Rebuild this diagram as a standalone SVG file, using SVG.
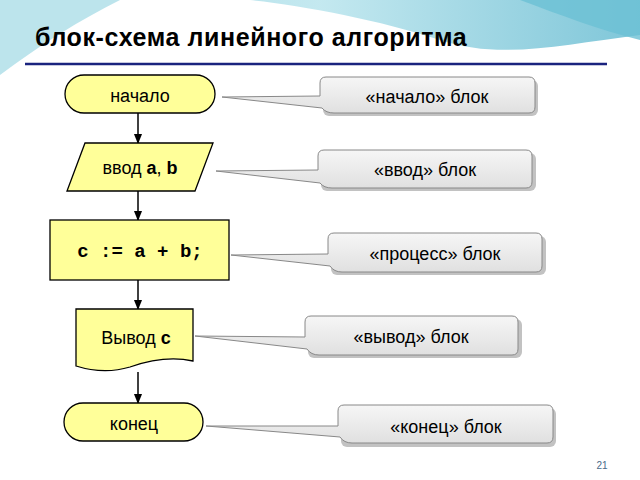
<svg xmlns="http://www.w3.org/2000/svg" width="640" height="480" viewBox="0 0 640 480">
<defs>
<linearGradient id="sky" x1="0" y1="0" x2="1" y2="0"><stop offset="0" stop-color="#8fd0de"/><stop offset="0.5" stop-color="#b5e3ec"/><stop offset="1" stop-color="#5fb8cf"/></linearGradient>
<linearGradient id="cg" x1="0" y1="0" x2="0" y2="1"><stop offset="0" stop-color="#f6f6f6"/><stop offset="1" stop-color="#e0e0e0"/></linearGradient>
<marker id="ar" viewBox="0 0 10 10" refX="9" refY="5" markerWidth="7" markerHeight="7" orient="auto"><path d="M0,1 L10,5 L0,9 z" fill="#000"/></marker>
</defs>
<style>
.n{fill:#ffff99;stroke:#000;stroke-width:1.3}
.t{font-family:"Liberation Sans",Arial,sans-serif;font-size:18px;text-anchor:middle;fill:#000}
.c{fill:url(#cg);stroke:#888;stroke-width:1}
.sh{fill:#9a9a9a;opacity:0.6}
.e{stroke:#000;stroke-width:1.5;marker-end:url(#ar)}
</style>
<rect width="640" height="480" fill="#fff"/>
<path d="M0,0 H640 V35 C560,45 500,60 440,40 C380,20 300,5 250,0 Z" fill="url(#sky)" opacity="0.8"/>
<path d="M0,0 H120 C80,20 40,45 0,75 Z" fill="#9fd8e4" opacity="0.7"/>
<path d="M520,0 H640 V40 C600,30 560,15 520,0 Z" fill="#6cc0d5" opacity="0.8"/>
<text x="35" y="46" font-family="Liberation Sans,Arial,sans-serif" font-size="25" font-weight="bold" letter-spacing="0.6" fill="#000">блок-схема линейного алгоритма</text>
<line x1="25" y1="64" x2="607" y2="64" stroke="#1a237e" stroke-width="2.5"/>

<g id="connectors">
<line class="e" x1="138" y1="113" x2="138" y2="143"/>
<line class="e" x1="138" y1="191" x2="138" y2="220"/>
<line class="e" x1="138" y1="280" x2="138" y2="309"/>
<line class="e" x1="138" y1="372" x2="138" y2="403"/>
</g>

<g id="start"><rect class="n" x="65" y="75" width="150" height="38" rx="19"/><text class="t" x="140" y="102">начало</text></g>
<g id="input"><path class="n" d="M85,143 H213 L195,191 H67 Z"/><text class="t" x="140" y="174">ввод <tspan font-weight="bold">a</tspan>, <tspan font-weight="bold">b</tspan></text></g>
<g id="process"><rect class="n" x="50" y="220" width="179" height="60"/><text x="140" y="257" font-family="Liberation Mono,Courier New,monospace" font-size="19" font-weight="bold" text-anchor="middle">c := a + b;</text></g>
<g id="output"><path class="n" d="M76,309 H193 V361 C170,356 150,360 130,367 C110,373 92,371 76,366 Z"/><text class="t" x="136" y="344">Вывод  <tspan font-weight="bold">c</tspan></text></g>
<g id="end"><rect class="n" x="64" y="403" width="139" height="38" rx="19"/><text class="t" x="134" y="430">конец</text></g>

<g id="callout1"><rect class="sh" x="323" y="80" width="215" height="36" rx="6"/><path class="c" d="M326,77 H529 Q535,77 535,83 V107 Q535,113 529,113 H334 Q326,113 322,108 L222,97 L320,96 V83 Q320,77 326,77 Z"/><text class="t" x="427" y="103">«начало» блок</text></g>
<g id="callout2"><rect class="sh" x="321" y="153" width="215" height="38" rx="6"/><path class="c" d="M324,150 H526 Q532,150 532,156 V182 Q532,188 526,188 H332 Q324,188 320,183 L216,171 L318,170 V156 Q318,150 324,150 Z"/><text class="t" x="425" y="176">«ввод» блок</text></g>
<g id="callout3"><rect class="sh" x="331" y="236" width="215" height="39" rx="6"/><path class="c" d="M334,233 H536 Q542,233 542,239 V266 Q542,272 536,272 H342 Q334,272 330,266 L231,255 L328,254 V239 Q328,233 334,233 Z"/><text class="t" x="435" y="260">«процесс» блок</text></g>
<g id="callout4"><rect class="sh" x="308" y="319" width="214" height="39" rx="6"/><path class="c" d="M311,316 H512 Q518,316 518,322 V349 Q518,355 512,355 H319 Q311,355 307,349 L195,336 L305,337 V322 Q305,316 311,316 Z"/><text class="t" x="411" y="343">«вывод» блок</text></g>
<g id="callout5"><rect class="sh" x="341" y="408" width="215" height="39" rx="6"/><path class="c" d="M344,405 H547 Q553,405 553,411 V437 Q553,443 547,443 H352 Q344,443 340,437 L206,426 L338,426 V411 Q338,405 344,405 Z"/><text class="t" x="446" y="433">«конец» блок</text></g>

<text x="602" y="469" font-family="Liberation Sans,Arial,sans-serif" font-size="10" fill="#4a6a8a" text-anchor="middle">21</text>
</svg>
